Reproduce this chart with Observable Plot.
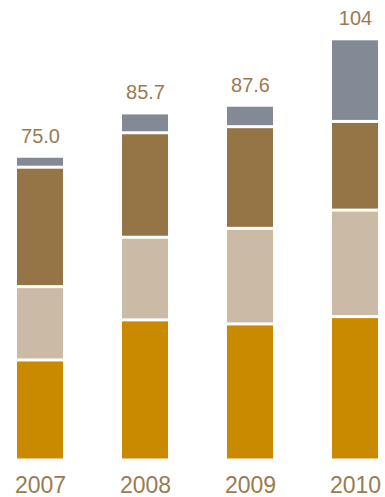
<!DOCTYPE html>
<html>
<head>
<meta charset="utf-8">
<script src="https://cdn.jsdelivr.net/npm/d3@7"></script>
<script src="https://cdn.jsdelivr.net/npm/@observablehq/plot@0.6"></script>
<style>
  html, body { margin: 0; padding: 0; background: #fff; }
  #chart svg { display: block; }
</style>
</head>
<body>
<div id="chart"></div>
<script>
const years = ["2007", "2008", "2009", "2010"];
const seriesNames = ["A", "B", "C", "D"]; // bottom to top
const seriesA = [24.7, 34.6, 33.6, 35.4]; // orange
const seriesB = [18.1, 20.4, 23.6, 26.3]; // beige
const seriesC = [29.5, 25.8, 25.1, 21.9]; // brown
const seriesD = [2.7, 4.9, 5.3, 20.4];    // gray
const totals = [75.0, 85.7, 87.6, 104];
const totalLabels = ["75.0", "85.7", "87.6", "104"];
const colors = ["#CA8A00", "#CBBAA5", "#957545", "#838995"];

const allSeries = [seriesA, seriesB, seriesC, seriesD];
const rows = [];
allSeries.forEach((vals, si) => {
  years.forEach((yr, i) => rows.push({year: yr, series: seriesNames[si], value: vals[i]}));
});
const totalRows = years.map((yr, i) => ({year: yr, total: totals[i], label: totalLabels[i]}));

const textColor = "#9A7B50";
const font = "'Liberation Sans', Arial, Helvetica, sans-serif";

const chart = Plot.plot({
  width: 385,
  height: 497,
  marginTop: 0,
  marginBottom: 37,
  marginLeft: 15,
  marginRight: 6,
  style: {fontFamily: font, background: "#fff"},
  x: {domain: years, paddingInner: 0.566, paddingOuter: 0, axis: null},
  y: {domain: [0, 460 / 4.05], axis: null},
  color: {domain: seriesNames, range: colors},
  marks: [
    Plot.barY(rows, {x: "year", y: "value", fill: "series", order: seriesNames, insetTop: 1.5, insetBottom: 1.5}),
    Plot.text(totalRows, {x: "year", y: "total", text: "label", dy: -14, lineAnchor: "bottom", fontSize: 20, fill: textColor}),
    Plot.text(years, {x: d => d, frameAnchor: "bottom", text: d => d, dy: 32, lineAnchor: "bottom", fontSize: 23, fill: textColor})
  ]
});
document.getElementById("chart").appendChild(chart);
</script>
</body>
</html>
